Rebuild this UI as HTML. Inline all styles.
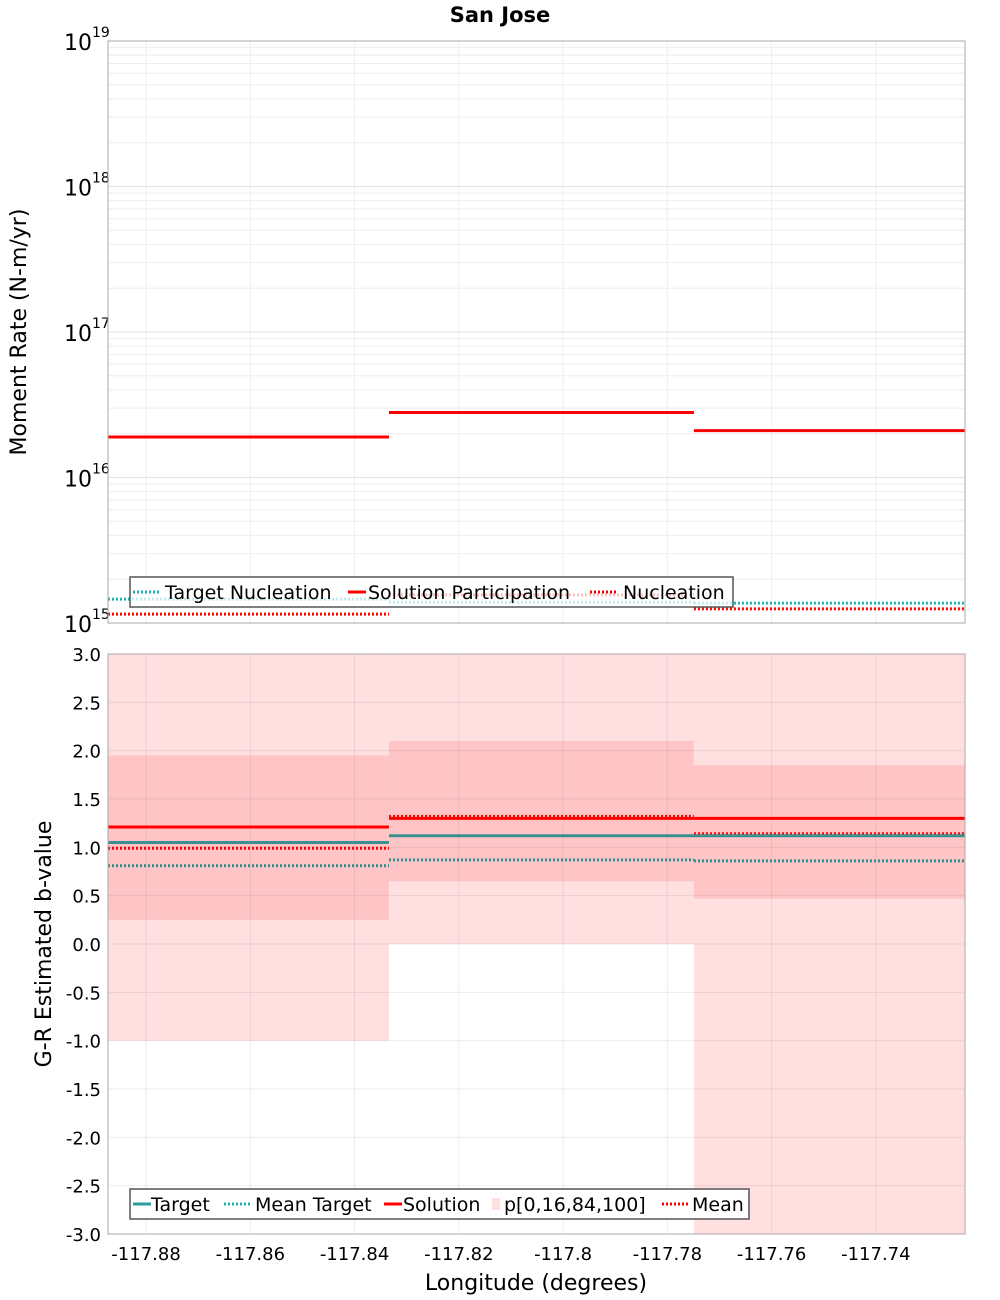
<!DOCTYPE html>
<html><head><meta charset="utf-8"><style>
html,body{margin:0;padding:0;background:#fff;}
svg{display:block;font-family:"DejaVu Sans","Liberation Sans",sans-serif;}
</style></head><body>
<svg id="chart" width="1000" height="1300" viewBox="0 0 1000 1300" xmlns="http://www.w3.org/2000/svg">
<text x="500" y="22" text-anchor="middle" font-size="21" font-weight="bold">San Jose</text>
<g id="topPanel"></g><g id="botPanel"></g>
</svg>
<script>
// ---- data ----
const binEdges = [-117.8873, -117.8334, -117.7749, -117.7229];
const xTicks = [-117.88, -117.86, -117.84, -117.82, -117.8, -117.78, -117.76, -117.74];
const xTickLabels = ["-117.88","-117.86","-117.84","-117.82","-117.8","-117.78","-117.76","-117.74"];
const solutionParticipation = [1.9e16, 2.8e16, 2.1e16];
const targetNucleation = [1.46e15, 1.39e15, 1.37e15];
const nucleation = [1.15e15, 1.56e15, 1.25e15];
const yDecades = [15, 16, 17, 18, 19];
const bTicks = [-3.0,-2.5,-2.0,-1.5,-1.0,-0.5,0.0,0.5,1.0,1.5,2.0,2.5,3.0];
const bTarget = [1.05, 1.12, 1.12];
const bMeanTarget = [0.81, 0.87, 0.86];
const bSolution = [1.21, 1.30, 1.30];
const bMean = [0.99, 1.32, 1.14];
const bP0 = [-1.0, 0.0, -3.0];
const bP16 = [0.25, 0.65, 0.47];
const bP84 = [1.95, 2.1, 1.85];
const bP100 = [3.0, 3.0, 3.0];

const NS = "http://www.w3.org/2000/svg";
const L = 108, R = 965;
const T1 = 41, B1 = 623, T2 = 654, B2 = 1234;
const xs = v => L + (v - binEdges[0]) / (binEdges[3] - binEdges[0]) * (R - L);
const ys1 = v => B1 - (Math.log10(v) - 15) / 4 * (B1 - T1);
const ys2 = v => B2 - (v + 3) / 6 * (B2 - T2);
function mk(parent, tag, attrs, text) {
  const e = document.createElementNS(NS, tag);
  for (const k in attrs) e.setAttribute(k, attrs[k]);
  if (text !== undefined) e.textContent = text;
  parent.appendChild(e); return e;
}
const topG = document.getElementById('topPanel'), botG = document.getElementById('botPanel');

// ---- top panel ----
const g = mk(topG, 'g', {});


for (let d = 15; d < 19; d++) for (let m = 1; m <= 9; m++) {
  const y = ys1(m * Math.pow(10, d));
  mk(g, 'line', {x1: L, x2: R, y1: y, y2: y, stroke: m === 1 ? '#e2e2e2' : '#eeeeee', 'stroke-width': 1});
}
xTicks.forEach(t => { const x = xs(t); mk(g, 'line', {x1: x, x2: x, y1: T1, y2: B1, stroke: '#eeeeee'}); });
yDecades.forEach(d => {
  const y = ys1(Math.pow(10, d));
  const t = mk(topG, 'text', {x: 64, y: y + 9, 'font-size': 22});
  
  
  t.appendChild(document.createTextNode('10'));
  mk(t, 'tspan', {dy: -13, 'font-size': 14}, String(d));
});
function steps(parent, arr, sc, color, dash, name, w) {
  arr.forEach((v, i) => {
    const y = sc(v);
    const l = mk(parent, 'line', {x1: xs(binEdges[i]), x2: xs(binEdges[i + 1]), y1: y, y2: y, stroke: color, 'stroke-width': w || 3});
    if (dash) l.setAttribute('stroke-dasharray', dash);
    
    
  });
}
steps(topG, targetNucleation, ys1, '#1ab2b2', '2,2', 'target-nucleation-segment');
steps(topG, nucleation, ys1, '#ff0000', '2,2', 'nucleation-segment');
steps(topG, solutionParticipation, ys1, '#ff0000', null, 'solution-participation-segment');
mk(topG, 'rect', {x: L, y: T1, width: R - L, height: B1 - T1, fill: 'none', stroke: '#aaaaaa'});
const yl1 = mk(topG, 'text', {transform: 'translate(26,332) rotate(-90)', 'text-anchor': 'middle', 'font-size': 22}, 'Moment Rate (N-m/yr)');


const lg1 = mk(topG, 'g', {});


mk(lg1, 'rect', {x: 130, y: 577, width: 603, height: 30, fill: 'rgba(255,255,255,0.75)', stroke: '#555', 'stroke-width': 1.5});
[[133, '#1ab2b2', '2,2', 'Target Nucleation', 165], [348, '#ff0000', null, 'Solution Participation', 368], [590, '#ff0000', '2,2', 'Nucleation', 623]].forEach(e => {
  const ln = mk(lg1, 'line', {x1: e[0], x2: e[0] + (e[2] ? 28 : 18), y1: 592, y2: 592, stroke: e[1], 'stroke-width': 3});
  if (e[2]) ln.setAttribute('stroke-dasharray', e[2]);
  const t = mk(lg1, 'text', {x: e[4], y: 599, 'font-size': 19}, e[3]);
  
  
});

// ---- bottom panel ----
bP0.forEach((v, i) => {
  const x1 = xs(binEdges[i]), x2 = xs(binEdges[i + 1]);
  const r1 = mk(botG, 'rect', {x: x1, y: ys2(bP100[i]), width: x2 - x1, height: ys2(v) - ys2(bP100[i]), fill: '#ffdfe0'});
  
  
  const r2 = mk(botG, 'rect', {x: x1, y: ys2(bP84[i]), width: x2 - x1, height: ys2(bP16[i]) - ys2(bP84[i]), fill: '#ffc5c6'});
  
  
});
const g2 = mk(botG, 'g', {});


bTicks.forEach(t => {
  const y = ys2(t);
  mk(g2, 'line', {x1: L, x2: R, y1: y, y2: y, stroke: 'rgba(0,0,0,0.07)'});
  const tx = mk(botG, 'text', {x: 101, y: y + 7, 'text-anchor': 'end', 'font-size': 18}, t.toFixed(1));
  
  
});
xTicks.forEach((t, i) => {
  const x = xs(t);
  mk(g2, 'line', {x1: x, x2: x, y1: T2, y2: B2, stroke: 'rgba(0,0,0,0.07)'});
  const tx = mk(botG, 'text', {x: x, y: 1260, 'text-anchor': 'middle', 'font-size': 18}, xTickLabels[i]);
  
  
});
steps(botG, bMeanTarget, ys2, '#2a8f8f', '2,2', 'mean-target-segment');
steps(botG, bMean, ys2, '#ff0000', '2,2', 'mean-segment');
steps(botG, bTarget, ys2, '#3a8f8f', null, 'target-segment');
steps(botG, bSolution, ys2, '#ff0000', null, 'solution-segment');
mk(botG, 'rect', {x: L, y: T2, width: R - L, height: B2 - T2, fill: 'none', stroke: '#aaaaaa'});
const yl2 = mk(botG, 'text', {transform: 'translate(51,944) rotate(-90)', 'text-anchor': 'middle', 'font-size': 22}, 'G-R Estimated b-value');


const xl = mk(botG, 'text', {x: 536, y: 1290, 'text-anchor': 'middle', 'font-size': 22}, 'Longitude (degrees)');


const lg2 = mk(botG, 'g', {});


mk(lg2, 'rect', {x: 130, y: 1189, width: 619, height: 30, fill: '#fff', stroke: '#555', 'stroke-width': 1.5});
[[133, '#2a9d9d', null, 'Target', 151], [224, '#1ab2b2', '2,2', 'Mean Target', 255], [384, '#ff0000', null, 'Solution', 403], [492, '#ffdfe0', 'box', 'p[0,16,84,100]', 504], [662, '#ff0000', '2,2', 'Mean', 692]].forEach(e => {
  if (e[2] === 'box') {
    mk(lg2, 'rect', {x: e[0], y: 1198, width: 8, height: 12, fill: e[1]});
  } else {
    const ln = mk(lg2, 'line', {x1: e[0], x2: e[0] + (e[2] ? 28 : 18), y1: 1204, y2: 1204, stroke: e[1], 'stroke-width': 3});
    if (e[2]) ln.setAttribute('stroke-dasharray', e[2]);
  }
  const t = mk(lg2, 'text', {x: e[4], y: 1211, 'font-size': 19}, e[3]);
  
  
});
</script>
</body></html>
